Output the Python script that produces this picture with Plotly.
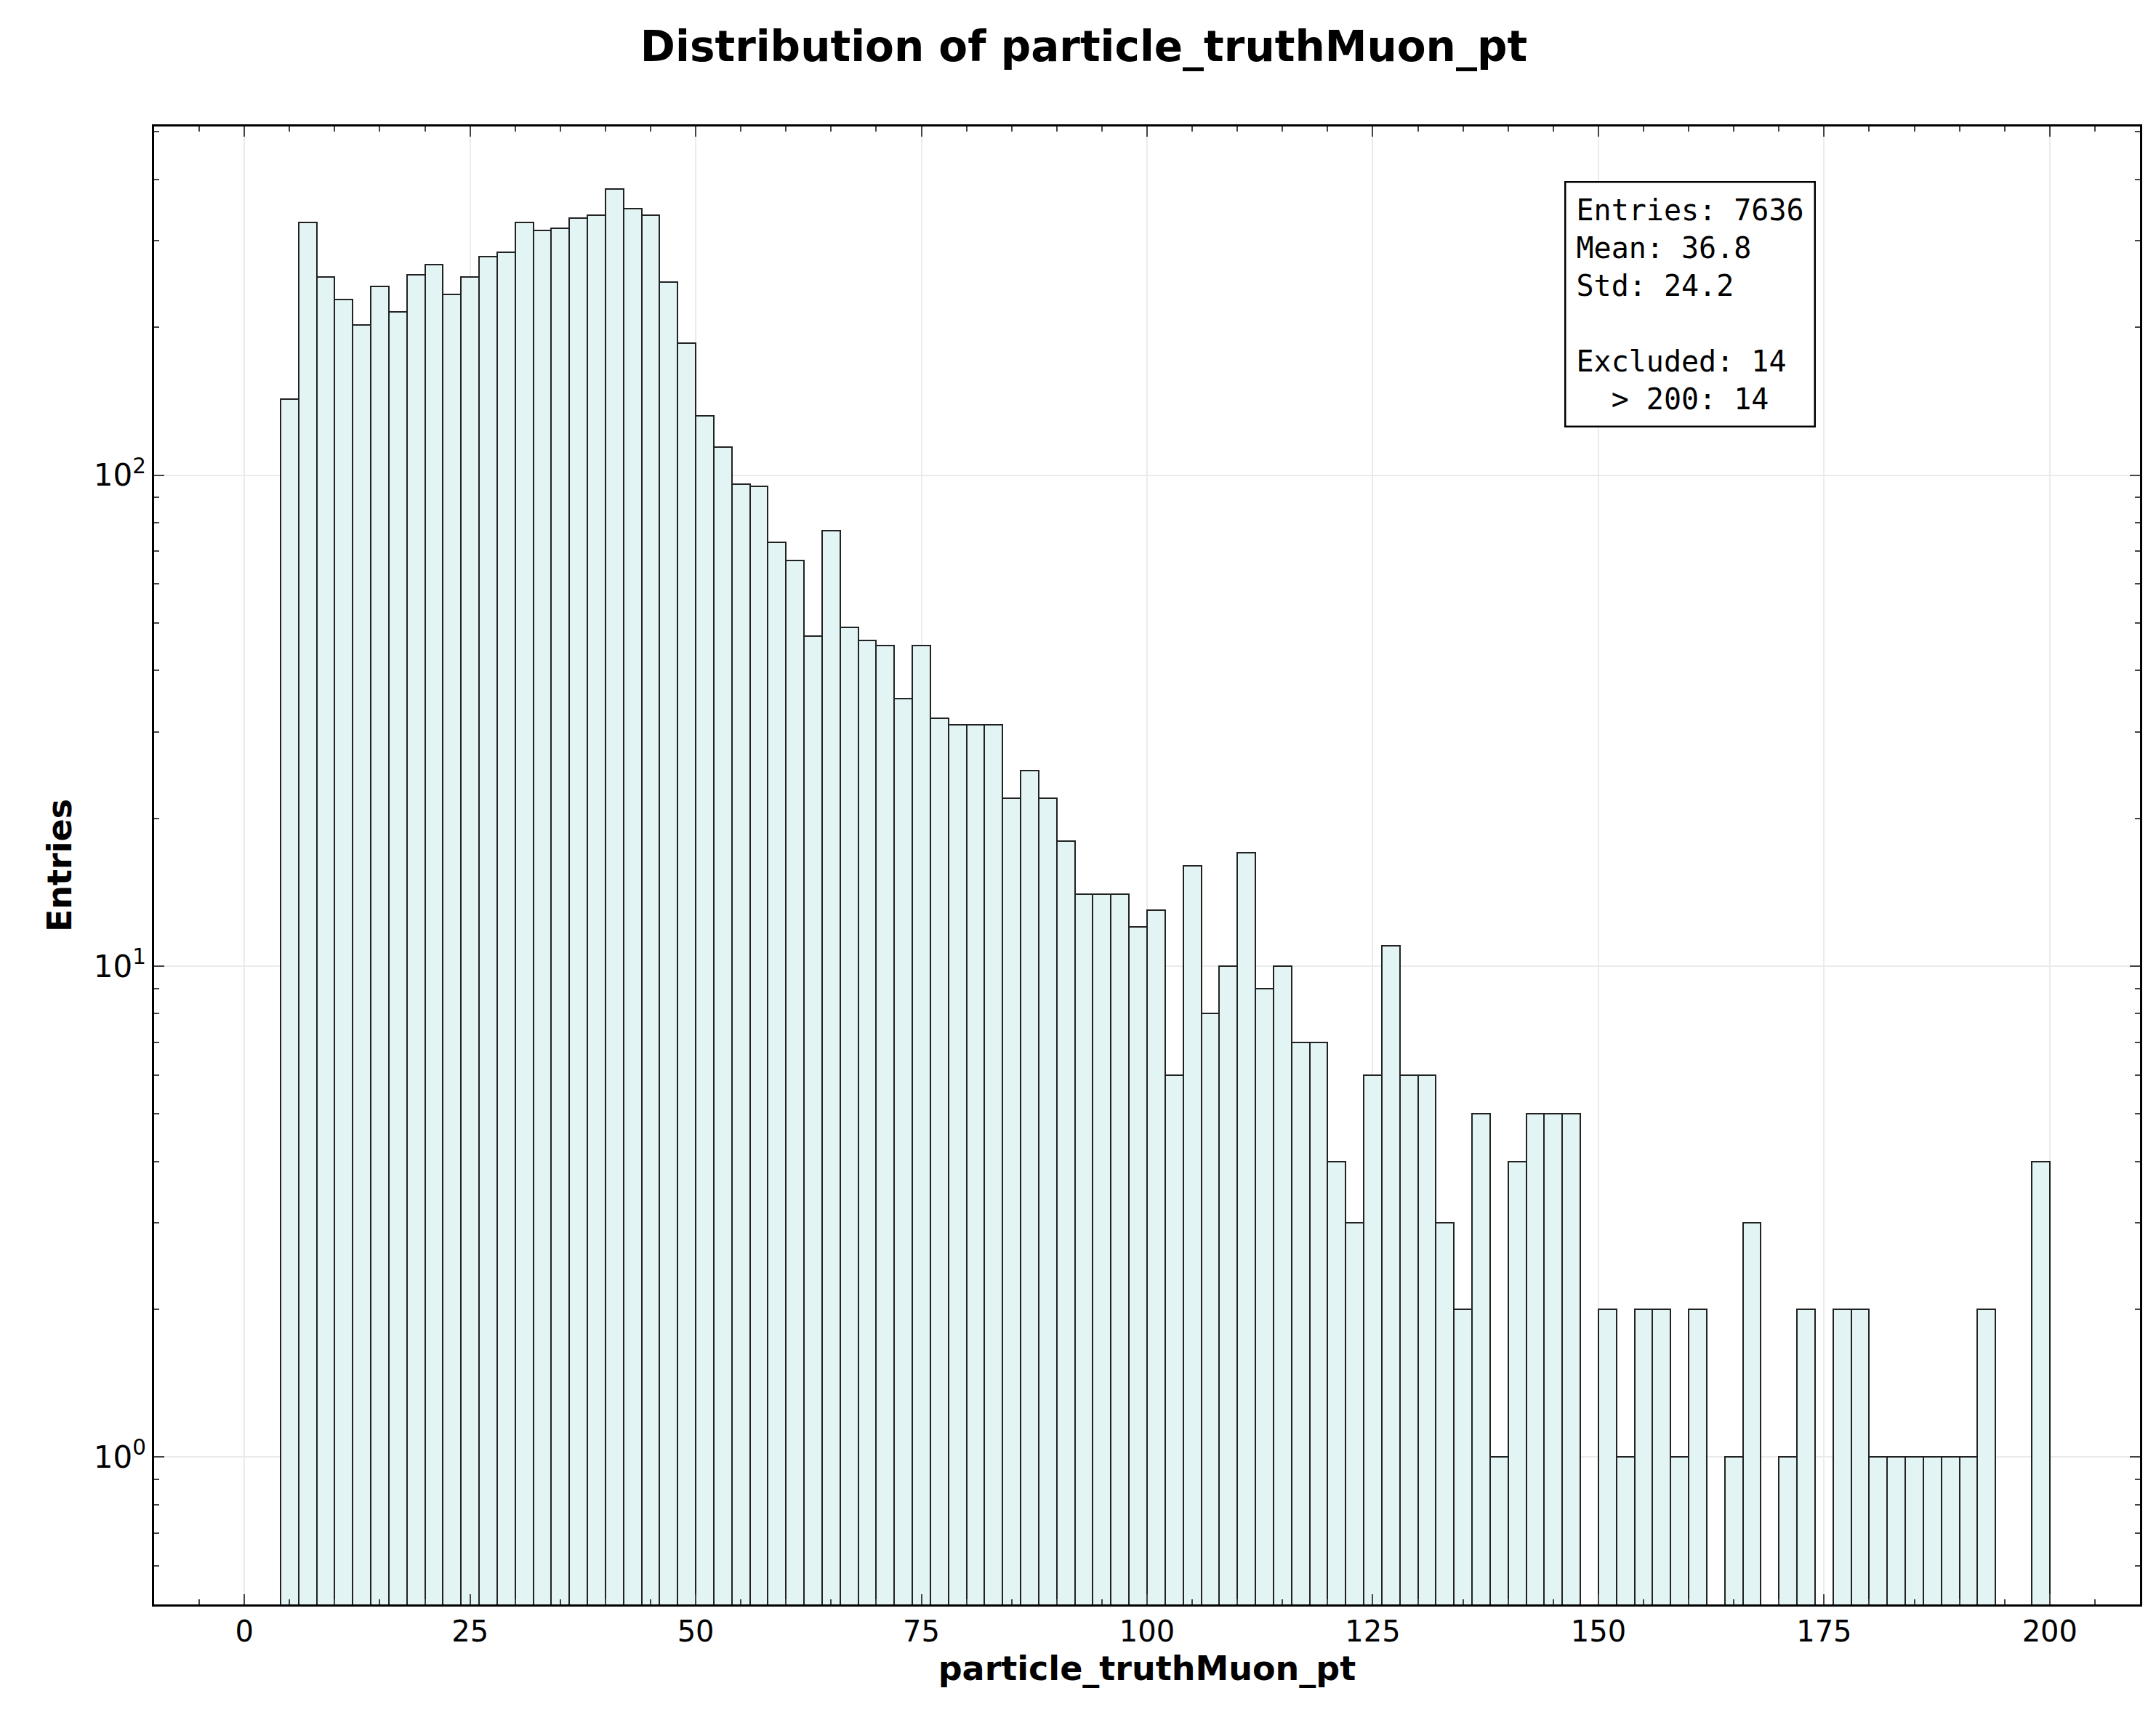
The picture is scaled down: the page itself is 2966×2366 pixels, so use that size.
import plotly.graph_objects as go

bin_edges_start = 4
bin_width = 2
counts = [143, 327, 253, 228, 202, 242, 215, 256, 268, 233,
          253, 279, 284, 327, 315, 318, 334, 338, 383, 349,
          338, 247, 186, 132, 114, 96, 95, 73, 67, 47,
          77, 49, 46, 45, 35, 45, 32, 31, 31, 31,
          22, 25, 22, 18, 14, 14, 14, 12, 13, 6,
          16, 8, 10, 17, 9, 10, 7, 7, 4, 3,
          6, 11, 6, 6, 3, 2, 5, 1, 4, 5,
          5, 5, 0, 2, 1, 2, 2, 1, 2, 0,
          1, 3, 0, 1, 2, 0, 2, 2, 1, 1,
          1, 1, 1, 1, 2, 0, 0, 4]
centers = [bin_edges_start + bin_width * (i + 0.5) for i in range(len(counts))]
xv = [c for c, n in zip(centers, counts) if n > 0]
yv = [n for n in counts if n > 0]

stats_text = "Entries: 7636<br>Mean: 36.8<br>Std: 24.2<br><br>Excluded: 14<br>  > 200: 14"

fig = go.Figure(go.Bar(x=xv, y=yv, width=bin_width,
                       marker=dict(color="#e3f4f5", line=dict(color="#222222", width=2))))

minor_y = [m * 10**e for e in (-1, 0, 1, 2) for m in range(2, 10)]
fig.update_layout(
    width=2966, height=2366, plot_bgcolor="white", paper_bgcolor="white",
    margin=dict(l=204, r=30, t=166, b=167), bargap=0, showlegend=False,
    font=dict(family="DejaVu Sans", color="black", size=40),
    title=dict(text="<b>Distribution of particle_truthMuon_pt</b>", x=0.5, xanchor="center",
               y=0.985, yanchor="top", font=dict(size=58)),
    xaxis=dict(range=[-10, 210], tickvals=[0, 25, 50, 75, 100, 125, 150, 175, 200],
               ticks="inside", ticklen=14, tickwidth=2, mirror="ticks", showline=True,
               linecolor="black", linewidth=2.5, showgrid=True, gridcolor="#ebebeb", gridwidth=1.5,
               zeroline=False, tickfont=dict(size=40),
               minor=dict(dtick=5, tick0=0, ticks="inside", ticklen=7, tickwidth=1.5, showgrid=False),
               title=dict(text="<b>particle_truthMuon_pt</b>", font=dict(size=46), standoff=14)),
    yaxis=dict(type="log", range=[-0.3, 2.71], tickvals=[1, 10, 100],
               ticktext=["10<sup>0</sup>", "10<sup>1</sup>", "10<sup>2</sup>"],
               ticks="inside", ticklen=14, tickwidth=2, mirror="ticks", showline=True,
               linecolor="black", linewidth=2.5, showgrid=True, gridcolor="#ebebeb", gridwidth=1.5,
               zeroline=False, tickfont=dict(size=42),
               minor=dict(tickvals=minor_y, ticks="inside", ticklen=7, tickwidth=1.5, showgrid=False),
               title=dict(text="<b>Entries</b>", font=dict(size=46), standoff=16)),
    annotations=[dict(text=stats_text, xref="paper", yref="paper", x=0.71, y=0.963,
                      xanchor="left", yanchor="top", align="left", showarrow=False,
                      font=dict(family="DejaVu Sans Mono", size=40),
                      bordercolor="black", borderwidth=2.5, borderpad=14, bgcolor="white")],
)
fig.write_html("out.html")
